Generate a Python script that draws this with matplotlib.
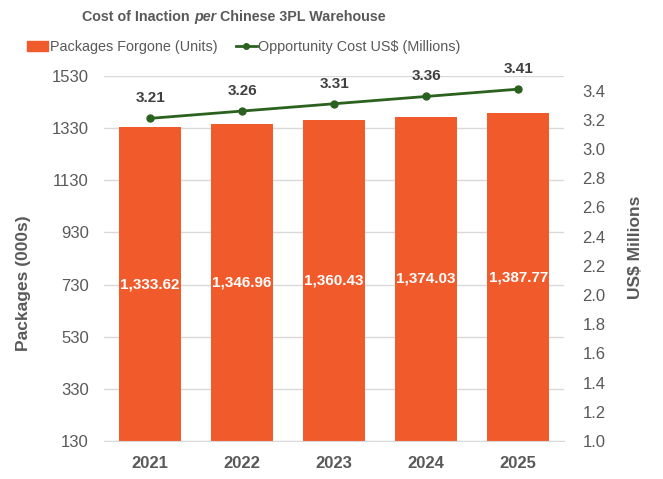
import matplotlib
matplotlib.use("Agg")
import matplotlib.pyplot as plt
from matplotlib.lines import Line2D
from matplotlib.patches import Patch

years = ["2021", "2022", "2023", "2024", "2025"]
packages = [1333.62, 1346.96, 1360.43, 1374.03, 1387.77]
cost = [3.21, 3.26, 3.31, 3.36, 3.41]
left_ticks = [130, 330, 530, 730, 930, 1130, 1330, 1530]
right_ticks = [1.0, 1.2, 1.4, 1.6, 1.8, 2.0, 2.2, 2.4, 2.6, 2.8, 3.0, 3.2, 3.4]

ORANGE = "#F15A2B"
GREEN = "#2B611F"
GRAY = "#595959"
GRID = "#D9D9D9"

plt.rcParams["font.family"] = ["Liberation Sans", "DejaVu Sans"]

fig = plt.figure(figsize=(6.63, 4.79), dpi=100)
W, H = fig.bbox.width, fig.bbox.height
ax = fig.add_axes([0.157, 0.0793, 0.694, 0.762])
x = list(range(len(years)))

ax.bar(x, [p - 130 for p in packages], bottom=130, width=0.67, color=ORANGE, zorder=2)
ax.set_ylim(130, 1530)
ax.set_xlim(-0.5, 4.5)
ax.set_yticks(left_ticks)
ax.set_xticks(x)
ax.set_xticklabels(years, fontweight="bold", fontsize=12, color=GRAY)
ax.tick_params(axis="y", labelsize=12, colors=GRAY, length=0, pad=11)
ax.tick_params(axis="x", length=0, pad=11)
ax.grid(axis="y", color=GRID, linewidth=1, zorder=0)
for s in ["top", "left", "right"]:
    ax.spines[s].set_visible(False)
ax.spines["bottom"].set_color(GRID)
ax.set_ylabel("Packages (000s)", fontsize=12.5, fontweight="bold", color=GRAY)
ax.yaxis.set_label_coords((31 - 104) / (0.694 * W), (441 - 283) / (0.762 * H))

for xi, p in zip(x, packages):
    ax.text(xi, (130 + p) / 2, f"{p:,.2f}", ha="center", va="center",
            color="white", fontweight="bold", fontsize=11, zorder=3)

ax2 = ax.twinx()
ax2.plot(x, cost, color=GREEN, linewidth=2, marker="o", markersize=5, zorder=4)
ax2.set_ylim(1.0, 3.5)
ax2.set_yticks(right_ticks)
ax2.set_yticklabels([f"{t:.1f}" for t in right_ticks])
ax2.tick_params(axis="y", labelsize=12, colors=GRAY, length=0, pad=13)
for s in ["top", "left", "right", "bottom"]:
    ax2.spines[s].set_visible(False)
ax2.set_ylabel("US$ Millions", fontsize=12.5, fontweight="bold", color=GRAY)
ax2.yaxis.set_label_coords((628 - 104) / (0.694 * W), (441 - 247) / (0.762 * H))

for xi, c in zip(x, cost):
    ax2.annotate(f"{c:.2f}", (xi, c), xytext=(0, 14.5), textcoords="offset points",
                 ha="center", va="center", fontsize=11, fontweight="bold", color="#404040")

# Title with an italic word in the middle
fig.canvas.draw()
r = fig.canvas.get_renderer()
parts = [("Cost of Inaction ", "normal"), ("per", "italic"), (" Chinese 3PL Warehouse", "normal")]
texts = []
for s, st in parts:
    t = fig.text(0, 1 - 17 / H, s, fontsize=10.3, fontweight="bold", style=st, color=GRAY,
                 ha="left", va="center")
    texts.append(t)
widths = [t.get_window_extent(r).width for t in texts]
cur = 234 - sum(widths) / 2
for t, w in zip(texts, widths):
    t.set_x(cur / W)
    cur += w

handles = [Patch(color=ORANGE, label="Packages Forgone (Units)"),
           Line2D([0], [0], color=GREEN, linewidth=2, marker="o", markersize=4,
                  label="Opportunity Cost US$ (Millions)")]
leg = fig.legend(handles=handles, loc="center", bbox_to_anchor=(244 / W, 1 - 47 / H), ncol=2,
                 frameon=False, fontsize=10.4, handlelength=1.45, handleheight=0.7,
                 columnspacing=1.3, handletextpad=0.1, borderpad=0)
for t in leg.get_texts():
    t.set_color(GRAY)

fig.savefig("out.png", dpi=100)
